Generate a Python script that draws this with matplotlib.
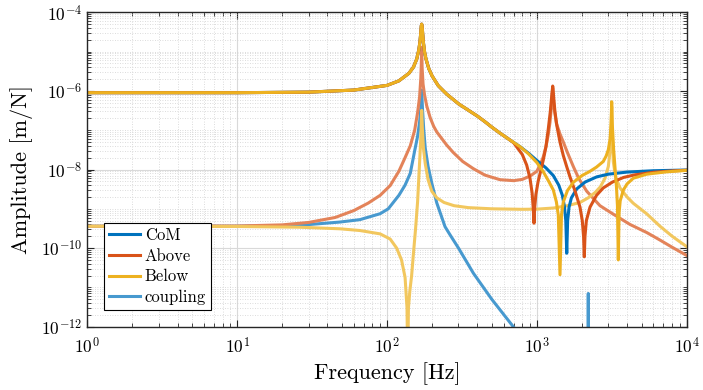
import matplotlib
matplotlib.use('Agg')
import matplotlib.pyplot as plt
from matplotlib.ticker import LogLocator, NullFormatter
from matplotlib.lines import Line2D

# ---------------- data ----------------
# common low-frequency part / first mode of the three direct responses
f_low = [1, 10, 30, 60, 100, 120, 140, 150, 158, 163, 166, 168, 169.3, 170.4, 171.5, 173, 175, 178, 182, 190, 200,
         220, 250, 300, 350, 400, 450, 500, 568, 650, 773]
a_low = [9e-7, 9e-7, 9.3e-7, 1.05e-6, 1.38e-6, 1.8e-6, 2.8e-6, 4e-6, 6.5e-6, 1.1e-5, 1.8e-5, 3e-5, 4.5e-5, 5e-5,
         4.5e-5, 2.9e-5, 1.7e-5, 1e-5, 6.5e-6, 3.7e-6, 2.4e-6, 1.35e-6, 8.3e-7, 4.7e-7, 3.2e-7, 2.3e-7, 1.65e-7,
         1.2e-7, 8.4e-8, 5.9e-8, 3.8e-8]

f_com = f_low + [880, 1000, 1150, 1288, 1400, 1480, 1530, 1560, 1583, 1605, 1640, 1700, 1845, 2100, 2512, 3000,
                 4000, 6000, 10000]
a_com = a_low + [2.6e-8, 1.7e-8, 1.1e-8, 7e-9, 4e-9, 2.2e-9, 1.1e-9, 5e-10, 7.4e-11, 5e-10, 1.1e-9, 1.9e-9, 3.2e-9,
                 4.8e-9, 6.5e-9, 7.6e-9, 8.6e-9, 9.3e-9, 9.7e-9]

f_above = f_low[:-1] + [700, 800, 855, 900, 930, 945, 957, 968, 985, 1020, 1060, 1104, 1150, 1193, 1230, 1255, 1276,
                        1295, 1320, 1360, 1427, 1500, 1580, 1664, 1800, 1941, 2010, 2050, 2073, 2095, 2140, 2263,
                        2500, 2775, 3200, 3800, 4500, 6000, 8000, 10000]
a_above = a_low[:-1] + [4.8e-8, 2.4e-8, 1.3e-8, 6e-9, 2.5e-9, 1.1e-9, 4.3e-10, 1.1e-9, 2.3e-9, 5e-9, 9e-9, 1.75e-8,
                        3.8e-8, 1.1e-7, 3e-7, 7e-7, 1.33e-6, 7e-7, 3e-7, 1.3e-7, 5e-8, 2.3e-8, 1.2e-8, 6.5e-9,
                        2.8e-9, 1.1e-9, 5e-10, 2e-10, 6e-11, 2e-10, 5e-10, 1.1e-9, 2.2e-9, 3.4e-9, 4.8e-9, 6.3e-9,
                        7.3e-9, 8.5e-9, 9.2e-9, 9.6e-9]

f_below = f_low + [880, 1000, 1100, 1200, 1288, 1350, 1390, 1427, 1460, 1502, 1600, 1750, 2000, 2263, 2500, 2775,
                   2900, 3000, 3080, 3130, 3158, 3185, 3250, 3330, 3400, 3450, 3496, 3540, 3600, 3776, 4000, 4403,
                   5409, 7300, 10000]
a_below = a_low + [2.5e-8, 1.5e-8, 9e-9, 5e-9, 3e-9, 1.5e-9, 7e-10, 2.1e-11, 7e-10, 1.5e-9, 2.9e-9, 4.7e-9, 7e-9,
                   9e-9, 1.15e-8, 1.6e-8, 2.2e-8, 3.2e-8, 6e-8, 1.5e-7, 5.3e-7, 1.5e-7, 3.5e-8, 1e-8, 3.5e-9,
                   1.2e-9, 5e-11, 8e-10, 1.6e-9, 3e-9, 4.3e-9, 6e-9, 7.6e-9, 8.7e-9, 9.5e-9]

f_cpl_com = [1, 10, 26, 48.5, 66, 90, 102, 120, 132, 143, 153, 160, 165, 168, 170.4, 172.5, 176, 180, 188, 199,
             215, 244, 263, 300, 377, 500, 696, 1000, 2000, 2195, 2204, 2213, 3000, 10000]
a_cpl_com = [3.6e-10, 3.6e-10, 3.8e-10, 4.6e-10, 5.3e-10, 7.5e-10, 1e-9, 2.2e-9, 4e-9, 8e-9, 3e-8, 7e-8, 1.6e-7,
             3.5e-7, 1.05e-6, 3.5e-7, 1e-7, 3.5e-8, 1.2e-8, 4.5e-9, 1.4e-9, 3.5e-10, 2.2e-10, 1e-10, 2.3e-11,
             5e-12, 1e-12, 1.6e-13, 1e-14, 5e-15, 7e-12, 5e-15, 1e-14, 1e-14]

f_cpl_above = [1, 10, 20, 30, 45, 60, 75, 90, 105, 120, 132, 143, 153, 160, 165, 168, 169.3, 170.4, 171.5, 174, 178,
               184, 194, 205, 215, 226, 250, 277, 320, 377, 450, 568, 700, 800, 900, 1000, 1060, 1104, 1150, 1190,
               1224, 1250, 1276, 1300, 1350, 1427, 1502, 1600, 1750, 1900, 2152, 2638, 3200, 4183, 5400, 6637, 8000,
               10000]
a_cpl_above = [3.6e-10, 3.65e-10, 3.9e-10, 4.5e-10, 6e-10, 9e-10, 1.4e-9, 2.2e-9, 3.9e-9, 9e-9, 2e-8, 4e-8, 1e-7,
               2.8e-7, 7e-7, 2e-6, 4.5e-6, 1.3e-5, 4e-6, 1.5e-6, 8e-7, 4.2e-7, 2.1e-7, 1.25e-7, 9e-8, 7e-8, 4.2e-8,
               2.7e-8, 1.6e-8, 1.05e-8, 7.2e-9, 5.5e-9, 5.2e-9, 5.6e-9, 6.8e-9, 9e-9, 1.4e-8, 2.1e-8, 3.8e-8,
               7.5e-8, 1.6e-7, 3.8e-7, 1.2e-6, 4e-7, 1.5e-7, 8e-8, 5e-8, 2.7e-8, 1.2e-8, 6e-9, 2.8e-9, 1.2e-9,
               7.5e-10, 4e-10, 2.5e-10, 1.6e-10, 1.05e-10, 6.5e-11]

f_cpl_below = [1, 10, 26, 48.5, 66, 90, 105, 116, 125, 132, 136, 137.5, 139, 142, 146, 150, 155, 160, 165, 168, 170.4,
               172, 175, 180, 188, 199, 215, 240, 280, 350, 500, 800, 1000, 1300, 1600, 1941, 2200, 2450, 2650, 2850,
               3000, 3080, 3130, 3158, 3185, 3236, 3350, 3589, 4000, 4403, 5400, 6637, 8000, 10000]
a_cpl_below = [3.6e-10, 3.55e-10, 3.4e-10, 3.1e-10, 2.8e-10, 2.3e-10, 1.7e-10, 1e-10, 5e-11, 1.8e-11, 3e-12, 1e-13,
               3e-12, 8e-12, 2e-11, 7e-11, 3e-10, 1.5e-9, 1.5e-8, 6e-8, 3.2e-7, 1.2e-7, 3.5e-8, 1.4e-8, 5.5e-9,
               2.8e-9, 1.9e-9, 1.45e-9, 1.2e-9, 1.07e-9, 1e-9, 9.7e-10, 9.8e-10, 1.05e-9, 1.2e-9, 1.45e-9, 1.9e-9,
               2.6e-9, 3.6e-9, 6e-9, 1.2e-8, 3e-8, 1e-7, 4e-7, 8e-8, 1.6e-8, 6.5e-9, 3.4e-9, 2e-9, 1.38e-9,
               7.5e-10, 3.6e-10, 2e-10, 1.09e-10]

legend_labels = ['CoM', 'Above', 'Below', 'coupling']

# ---------------- style ----------------
plt.rcParams['font.family'] = ['cmr10', 'DejaVu Serif']
plt.rcParams['mathtext.fontset'] = 'cm'
plt.rcParams['axes.formatter.use_mathtext'] = True
plt.rcParams['axes.unicode_minus'] = False

c_blue = (0.0, 0.447, 0.741)
c_red = (0.850, 0.325, 0.098)
c_yel = (0.929, 0.694, 0.125)
a_l = 0.72

def light(c, a=a_l):
    return tuple(1 - a + a * v for v in c)

fig = plt.figure(figsize=(7.03, 3.90), dpi=100)
ax = fig.add_axes([87.3 / 703, 1 - 326.7 / 390, 599.4 / 703, 314.4 / 390])

lw = 2.2
ax.plot(f_cpl_com, a_cpl_com, color=light(c_blue), lw=lw)
ax.plot(f_cpl_above, a_cpl_above, color=light(c_red), lw=lw)
ax.plot(f_cpl_below, a_cpl_below, color=light(c_yel), lw=lw)
ax.plot(f_com, a_com, color=c_blue, lw=lw)
ax.plot(f_above, a_above, color=c_red, lw=lw)
ax.plot(f_below, a_below, color=c_yel, lw=lw)

ax.set_xscale('log')
ax.set_yscale('log')
ax.set_xlim(1, 1e4)
ax.set_ylim(1e-12, 1e-4)
ax.set_yticks([1e-12, 1e-10, 1e-8, 1e-6, 1e-4])
ax.yaxis.set_minor_locator(LogLocator(base=10, subs=[1, 2, 3, 4, 5, 6, 7, 8, 9], numticks=100))
ax.yaxis.set_minor_formatter(NullFormatter())
ax.xaxis.set_minor_locator(LogLocator(base=10, subs=[2, 3, 4, 5, 6, 7, 8, 9], numticks=100))
ax.xaxis.set_minor_formatter(NullFormatter())

ax.grid(True, which='major', color='#d9d9d9', lw=0.8, ls='-')
ax.grid(True, which='minor', color='#d0d0d0', lw=0.6, ls=(0, (1, 2)))
ax.set_axisbelow(True)
ax.tick_params(which='both', direction='in', top=True, right=True, labelsize=12.5, color='#262626')
ax.tick_params(which='major', length=5, width=0.8)
ax.tick_params(which='minor', length=3, width=0.6)
ax.tick_params(axis='x', which='major', pad=7)
for s in ax.spines.values():
    s.set_linewidth(1.0)
    s.set_color('#262626')

ax.set_xlabel('Frequency [Hz]', fontsize=16, labelpad=4)
ax.set_ylabel('Amplitude [m/N]', fontsize=16, labelpad=6)

handles = [Line2D([], [], color=c_blue, lw=lw), Line2D([], [], color=c_red, lw=lw),
           Line2D([], [], color=c_yel, lw=lw), Line2D([], [], color=light(c_blue), lw=lw)]
leg = ax.legend(handles, legend_labels, loc='lower left', bbox_to_anchor=(0.028, 0.053), borderaxespad=0,
                fancybox=False, edgecolor='black', framealpha=1, fontsize=12, handlelength=1.85,
                handletextpad=0.3, labelspacing=0.32, borderpad=0.3)
leg.get_frame().set_linewidth(0.8)

fig.savefig('out.png', dpi=100)
